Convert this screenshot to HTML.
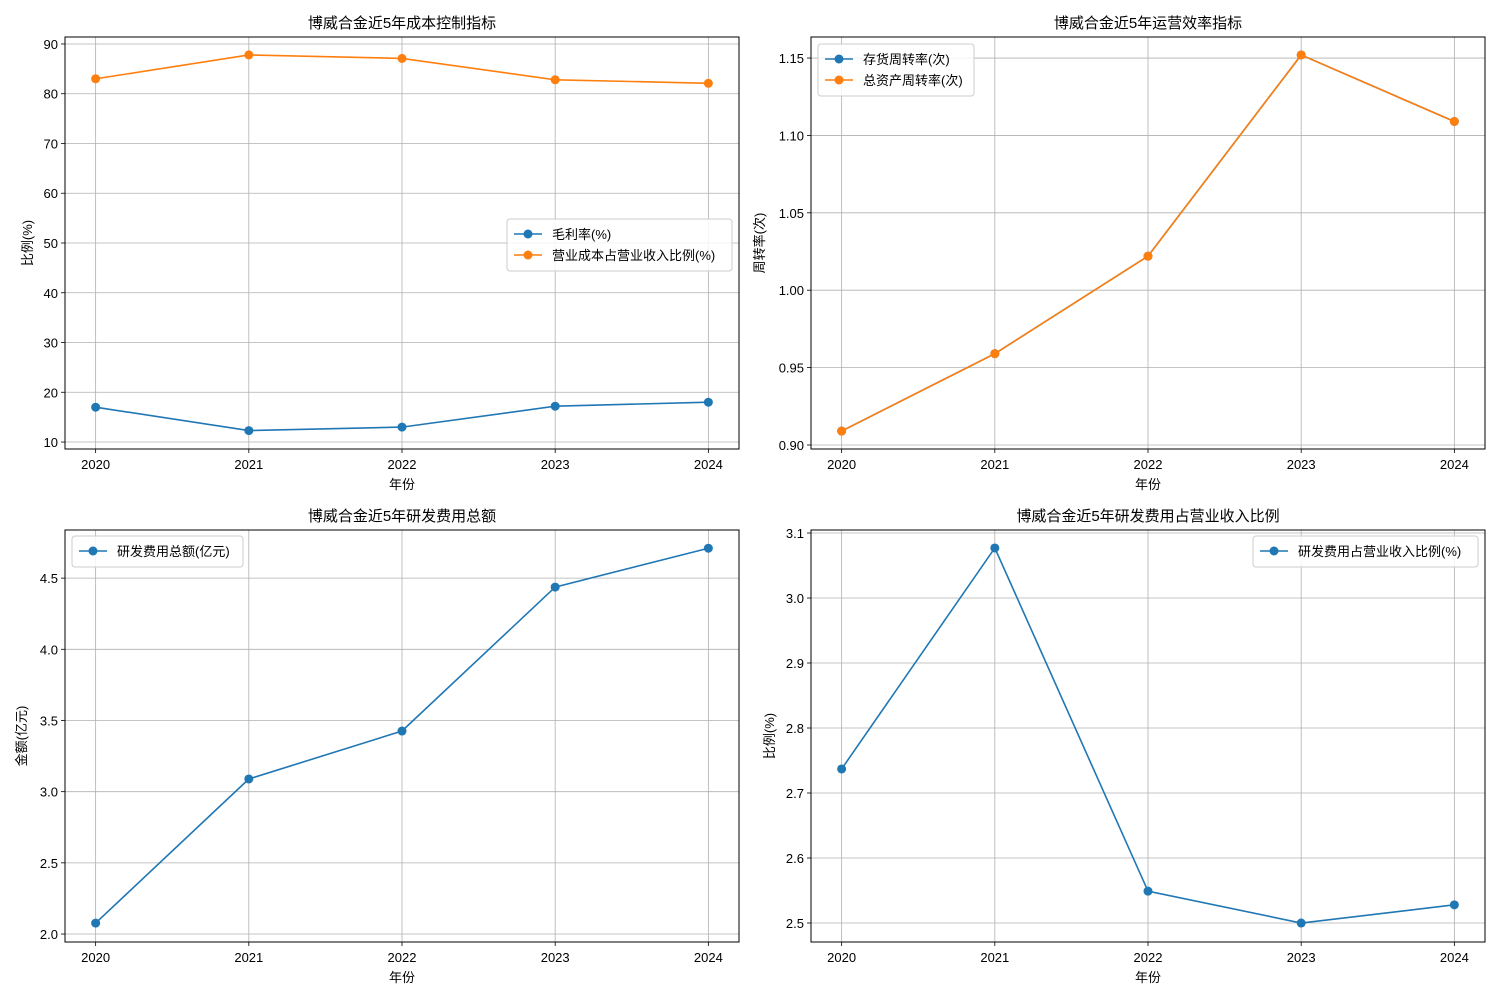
<!DOCTYPE html>
<html><head><meta charset="utf-8">
<style>
body{margin:0;background:#fff;}
svg{display:block;font-family:"Liberation Sans","Noto Sans CJK SC",sans-serif;}
</style></head>
<body>
<svg id="fig" width="1500" height="1000"></svg>
<script>
const years = [2020, 2021, 2022, 2023, 2024];
const grossMargin = [17.0, 12.3, 13.0, 17.2, 18.0];
const costRatio = [83.0, 87.8, 87.1, 82.8, 82.1];
const inventoryTurnover = [0.909, 0.959, 1.022, 1.152, 1.109];
const assetTurnover = [0.909, 0.959, 1.022, 1.152, 1.109];
const rdExpense = [2.077, 3.089, 3.426, 4.437, 4.71];
const rdRatio = [2.737, 3.077, 2.549, 2.500, 2.528];
const ticksTL = [10, 20, 30, 40, 50, 60, 70, 80, 90];
const ticksTR = [0.90, 0.95, 1.00, 1.05, 1.10, 1.15];
const ticksBL = [2.0, 2.5, 3.0, 3.5, 4.0, 4.5];
const ticksBR = [2.5, 2.6, 2.7, 2.8, 2.9, 3.0, 3.1];

const NS = "http://www.w3.org/2000/svg";
const svg = document.getElementById('fig');
function mk(tag, attrs, parent, text){
  const e = document.createElementNS(NS, tag);
  for (const k in attrs) e.setAttribute(k, attrs[k]);
  if (text !== undefined) e.textContent = text;
  (parent || svg).appendChild(e);
  return e;
}
const BLUE = '#1f77b4', ORANGE = '#ff7f0e';

function panel(cfg){
  const g = mk('g', {});
  
  
  const {x0, x1, y0, y1, ymin, ymax} = cfg;
  const xs = v => x0 + (x1 - x0) * ((v - 2019.8) / 4.4);
  const ys = v => y1 - (y1 - y0) * ((v - ymin) / (ymax - ymin));
  // grid
  years.forEach(yr => {
    const l = mk('line', {x1: xs(yr), x2: xs(yr), y1: y0, y2: y1, stroke: '#b0b0b0', 'stroke-width': 0.8}, g);
    
    
    mk('line', {x1: xs(yr), x2: xs(yr), y1: y1, y2: y1 + 4, stroke: '#000', 'stroke-width': 0.8}, g);
    const t = mk('text', {x: xs(yr), y: y1 + 20, 'text-anchor': 'middle', 'font-size': 13}, g, String(yr));
    
    
  });
  cfg.ticks.forEach(v => {
    mk('line', {x1: x0, x2: x1, y1: ys(v), y2: ys(v), stroke: '#b0b0b0', 'stroke-width': 0.8}, g);
    mk('line', {x1: x0 - 4, x2: x0, y1: ys(v), y2: ys(v), stroke: '#000', 'stroke-width': 0.8}, g);
    const t = mk('text', {x: x0 - 7, y: ys(v) + 5, 'text-anchor': 'end', 'font-size': 13}, g, v.toFixed(cfg.dec));
    
    
  });
  cfg.series.forEach(s => {
    const pts = s.data.map((v, i) => xs(years[i]) + ',' + ys(v)).join(' ');
    const pl = mk('polyline', {points: pts, fill: 'none', stroke: s.color, 'stroke-width': 1.6}, g);
    
    
    s.data.forEach((v, i) => {
      const c = mk('circle', {cx: xs(years[i]), cy: ys(v), r: 4.5, fill: s.color}, g);
      
      
    });
  });
  mk('rect', {x: x0, y: y0, width: x1 - x0, height: y1 - y0, fill: 'none', stroke: '#000', 'stroke-width': 1}, g);
  const tt = mk('text', {x: (x0 + x1) / 2, y: y0 - 9, 'text-anchor': 'middle', 'font-size': 15}, g, cfg.title);
  
  
  const xl = mk('text', {x: (x0 + x1) / 2, y: y1 + 40, 'text-anchor': 'middle', 'font-size': 13}, g, '年份');
  
  
  const cy = (y0 + y1) / 2;
  const yl = mk('text', {x: cfg.ylx, y: cy, 'text-anchor': 'middle', 'font-size': 13, transform: `rotate(-90 ${cfg.ylx} ${cy})`}, g, cfg.ylabel);
  
  
  // legend
  const L = cfg.legend;
  const lg = mk('g', {}, g);
  
  
  mk('rect', {x: L.x, y: L.y, width: L.w, height: 10 + 21 * cfg.series.length, rx: 3, fill: '#fff', 'fill-opacity': 0.85, stroke: '#ccc'}, lg);
  cfg.series.forEach((s, i) => {
    const yy = L.y + 15 + 21 * i;
    mk('line', {x1: L.x + 7, x2: L.x + 35, y1: yy, y2: yy, stroke: s.color, 'stroke-width': 1.6}, lg);
    mk('circle', {cx: L.x + 21, cy: yy, r: 4.5, fill: s.color}, lg);
    const t = mk('text', {x: L.x + 45, y: yy + 5, 'font-size': 13}, lg, s.label);
    
    
  });
}

panel({name: 'cost-control-chart', x0: 65, x1: 739, y0: 37, y1: 449, ymin: 8.6, ymax: 91.4, ticks: ticksTL, dec: 0,
  title: '博威合金近5年成本控制指标', ylabel: '比例(%)', ylx: 32,
  legend: {x: 507, y: 219, w: 225},
  series: [{id: 'gross-margin', data: grossMargin, color: BLUE, label: '毛利率(%)'},
           {id: 'cost-ratio', data: costRatio, color: ORANGE, label: '营业成本占营业收入比例(%)'}]});
panel({name: 'efficiency-chart', x0: 811, x1: 1485, y0: 37, y1: 449, ymin: 0.8974, ymax: 1.1636, ticks: ticksTR, dec: 2,
  title: '博威合金近5年运营效率指标', ylabel: '周转率(次)', ylx: 764,
  legend: {x: 818, y: 44, w: 156},
  series: [{id: 'inventory-turnover', data: inventoryTurnover, color: BLUE, label: '存货周转率(次)'},
           {id: 'asset-turnover', data: assetTurnover, color: ORANGE, label: '总资产周转率(次)'}]});
panel({name: 'rd-expense-chart', x0: 65, x1: 739, y0: 530, y1: 942, ymin: 1.944, ymax: 4.838, ticks: ticksBL, dec: 1,
  title: '博威合金近5年研发费用总额', ylabel: '金额(亿元)', ylx: 26,
  legend: {x: 72, y: 536, w: 171},
  series: [{id: 'rd-expense', data: rdExpense, color: BLUE, label: '研发费用总额(亿元)'}]});
panel({name: 'rd-ratio-chart', x0: 811, x1: 1485, y0: 530, y1: 942, ymin: 2.4708, ymax: 3.1046, ticks: ticksBR, dec: 1,
  title: '博威合金近5年研发费用占营业收入比例', ylabel: '比例(%)', ylx: 774,
  legend: {x: 1253, y: 536, w: 225},
  series: [{id: 'rd-ratio', data: rdRatio, color: BLUE, label: '研发费用占营业收入比例(%)'}]});
</script>
</body></html>
